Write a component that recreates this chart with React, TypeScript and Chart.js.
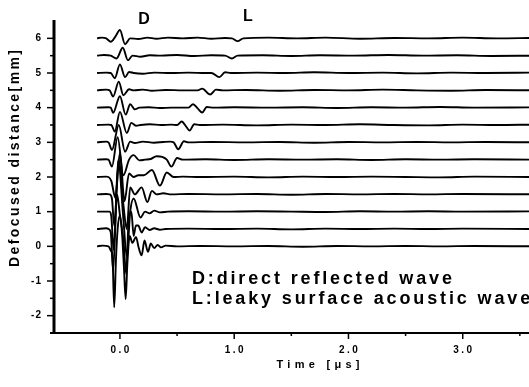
import { useEffect, useRef } from 'react';
import { Chart, registerables } from 'chart.js';

Chart.register(...registerables);

// Defocus distance (mm) of each recorded trace; also the vertical offset of the trace.
const offsets = [0, 0.5, 1, 1.5, 2, 2.5, 3, 3.5, 4, 4.5, 5, 5.5, 6];

// Waveform samples for each trace: [time in µs, amplitude relative to its baseline].
const traceZ0: [number, number][] = [
  [-0.2, 0], [-0.15, 0.02], [-0.1, 0.0], [-0.08, -0.12], [-0.065, -0.3], [-0.05, -1.76],
  [-0.035, -0.4], [-0.02, 0.5], [0.0, 0.9], [0.02, 0.3], [0.035, -0.6], [0.05, -1.52],
  [0.065, -0.5], [0.085, 0.3], [0.11, 0.1], [0.14, 0.27], [0.165, -0.05], [0.19, -0.26],
  [0.215, 0.17], [0.245, -0.16], [0.27, 0.08], [0.3, -0.05], [0.33, 0.04], [0.36, -0.03],
  [0.4, 0.02], [0.5, 0.0], [0.7, 0.01], [1.0, 0.0], [1.3, 0.01], [1.6, -0.01], [1.9, 0.01],
  [2.2, 0.0], [2.5, 0.01], [2.8, 0.0], [3.1, 0.01], [3.6, 0.0],
];
const traceZ05: [number, number][] = [
  [-0.2, 0], [-0.12, 0.02], [-0.1, 0.0], [-0.08, -0.1], [-0.06, -1.2], [-0.025, 1.0],
  [0.0, 0.4], [0.03, -0.3], [0.055, -1.3], [0.075, 0.2], [0.1, 0.5], [0.12, -0.2],
  [0.14, 0.1], [0.16, 0.1], [0.19, -0.1], [0.22, 0.05], [0.26, -0.03], [0.3, 0.02],
  [0.35, -0.02], [0.4, 0.0], [0.6, 0.01], [0.9, 0.0], [1.2, 0.01], [1.5, -0.01], [1.8, 0.01],
  [2.1, 0.0], [2.4, 0.01], [2.7, 0.0], [3.0, 0.01], [3.6, 0.0],
];
const traceZ1: [number, number][] = [
  [-0.2, 0], [-0.12, 0.0], [-0.09, 0.0], [-0.075, -0.15], [-0.055, -1.1], [-0.015, 1.5],
  [0.03, -0.2], [0.06, -1.3], [0.09, 0.0], [0.12, 0.38], [0.18, -0.17], [0.22, 0.0],
  [0.26, -0.05], [0.3, 0.03], [0.35, -0.02], [0.42, 0.0], [0.6, 0.01], [0.9, 0.0], [1.2, 0.01],
  [1.5, 0.0], [1.8, -0.01], [2.1, 0.01], [2.4, 0.0], [2.7, 0.01], [3.0, 0.0], [3.6, 0.01],
];
const traceZ15: [number, number][] = [
  [-0.2, 0], [-0.12, 0.01], [-0.09, 0.0], [-0.07, -0.12], [-0.05, -0.9], [-0.01, 1.0],
  [0.03, -0.3], [0.06, -1.0], [0.09, 0.2], [0.13, 0.0], [0.19, 0.2], [0.24, -0.22],
  [0.28, 0.1], [0.32, 0.0], [0.38, 0.03], [0.45, 0.0], [0.6, 0.01], [0.9, 0.0], [1.2, 0.01],
  [1.5, -0.01], [1.8, 0.01], [2.1, 0.0], [2.4, 0.01], [2.7, 0.0], [3.0, 0.01], [3.6, 0.0],
];
const traceZ2: [number, number][] = [
  [-0.2, 0], [-0.12, 0.01], [-0.1, 0.0], [-0.075, -0.12], [-0.04, -0.6], [0.0, 0.7],
  [0.04, -0.7], [0.08, 0.1], [0.12, 0.0], [0.16, 0.05], [0.21, 0.05], [0.28, 0.2],
  [0.35, -0.25], [0.41, 0.13], [0.47, 0.0], [0.55, 0.01], [0.7, 0.0], [1.0, 0.01], [1.3, -0.01],
  [1.6, 0.01], [1.9, 0.0], [2.2, 0.01], [2.5, 0.0], [2.8, -0.01], [3.1, 0.01], [3.6, 0.0],
];
const traceZ25: [number, number][] = [
  [-0.2, 0], [-0.12, 0.01], [-0.1, 0.0], [-0.07, -0.2], [-0.02, 0.65], [0.03, -0.45],
  [0.08, 0.0], [0.12, 0.13], [0.17, -0.02], [0.22, 0.0], [0.27, 0.02], [0.32, 0.1],
  [0.37, 0.08], [0.41, 0.0], [0.45, -0.2], [0.5, 0.05], [0.55, 0.0], [0.75, 0.01], [1.0, -0.01],
  [1.3, 0.01], [1.6, 0.0], [1.9, 0.01], [2.2, -0.01], [2.5, 0.01], [2.8, 0.0], [3.1, 0.01], [3.6, 0.0],
];
const traceZ3: [number, number][] = [
  [-0.2, 0], [-0.12, 0.02], [-0.1, 0.0], [-0.07, -0.22], [-0.01, 0.5], [0.045, -0.27],
  [0.09, 0.02], [0.13, -0.02], [0.2, 0.02], [0.3, -0.01], [0.38, 0.01], [0.44, 0.02],
  [0.47, 0.0], [0.51, -0.2], [0.56, 0.03], [0.6, 0.0], [0.8, 0.01], [1.1, 0.0], [1.4, 0.01],
  [1.7, -0.01], [2.0, 0.01], [2.3, 0.0], [2.6, 0.01], [2.9, 0.0], [3.2, 0.01], [3.6, 0.0],
];
const traceZ35: [number, number][] = [
  [-0.2, 0], [-0.1, 0.01], [-0.075, 0.0], [-0.045, -0.19], [0.0, 0.38], [0.06, -0.23],
  [0.1, 0.06], [0.14, -0.02], [0.18, 0.0], [0.26, 0.02], [0.36, 0.0], [0.45, 0.01], [0.5, 0.0],
  [0.54, 0.1], [0.58, -0.05], [0.61, -0.16], [0.65, 0.02], [0.7, 0.0], [0.9, 0.01], [1.2, -0.01],
  [1.5, 0.01], [1.8, 0.0], [2.1, 0.02], [2.4, 0.0], [2.7, -0.01], [3.0, 0.01], [3.3, 0.0], [3.6, 0.01],
];
const traceZ4: [number, number][] = [
  [-0.2, 0], [-0.1, 0.01], [-0.08, 0.0], [-0.06, -0.15], [0.0, 0.33], [0.05, -0.2],
  [0.09, 0.1], [0.13, -0.05], [0.17, 0.0], [0.25, 0.01], [0.35, -0.01], [0.45, 0.0], [0.6, 0.0],
  [0.64, 0.1], [0.68, -0.02], [0.72, -0.14], [0.76, 0.02], [0.82, 0.0], [1.0, 0.01], [1.3, 0.0],
  [1.6, 0.01], [1.9, -0.01], [2.2, 0.01], [2.5, 0.0], [2.8, 0.02], [3.1, 0.0], [3.6, 0.01],
];
const traceZ45: [number, number][] = [
  [-0.2, 0], [-0.12, 0.02], [-0.09, 0.0], [-0.06, -0.18], [-0.01, 0.25], [0.03, -0.14],
  [0.08, 0.03], [0.12, 0.0], [0.2, 0.02], [0.28, -0.01], [0.4, 0.01], [0.55, 0.0], [0.68, 0.0],
  [0.72, 0.05], [0.79, -0.12], [0.84, 0.02], [0.9, 0.0], [1.1, 0.01], [1.4, -0.01], [1.7, 0.01],
  [2.0, 0.0], [2.3, 0.02], [2.6, 0.0], [2.9, -0.01], [3.2, 0.01], [3.6, 0.0],
];
const traceZ5: [number, number][] = [
  [-0.2, 0], [-0.12, 0.01], [-0.08, 0.0], [-0.045, -0.15], [0.0, 0.25], [0.045, -0.12],
  [0.08, 0.03], [0.12, 0.0], [0.2, -0.02], [0.3, 0.01], [0.45, 0.0], [0.6, 0.01], [0.75, 0.0],
  [0.8, 0.0], [0.87, -0.12], [0.92, 0.02], [0.97, 0.0], [1.2, 0.01], [1.45, 0.0], [1.7, 0.02],
  [2.0, 0.0], [2.3, 0.01], [2.6, -0.01], [2.9, 0.01], [3.2, 0.0], [3.6, 0.01],
];
const traceZ55: [number, number][] = [
  [-0.2, 0], [-0.14, 0.02], [-0.08, 0.0], [-0.03, -0.08], [0.025, 0.23], [0.07, -0.13],
  [0.11, 0.0], [0.18, -0.03], [0.26, 0.01], [0.36, 0.0], [0.5, 0.02], [0.65, -0.01], [0.8, 0.01],
  [0.92, 0.0], [0.98, -0.08], [1.03, 0.0], [1.25, 0.01], [1.5, -0.01], [1.75, 0.01], [2.05, 0.0],
  [2.35, 0.02], [2.65, 0.0], [2.95, 0.01], [3.25, -0.01], [3.6, 0.0],
];
const traceZ6: [number, number][] = [
  [-0.2, 0], [-0.16, 0.02], [-0.12, 0.0], [-0.08, -0.1], [-0.04, 0.05], [0.0, 0.24],
  [0.045, -0.17], [0.09, 0.0], [0.16, -0.02], [0.24, 0.02], [0.32, -0.01], [0.42, 0.02],
  [0.55, 0.0], [0.68, 0.02], [0.8, -0.01], [0.92, 0.01], [0.98, 0.0], [1.03, -0.08], [1.08, 0.0],
  [1.3, 0.02], [1.55, 0.0], [1.8, 0.02], [2.1, -0.01], [2.4, 0.01], [2.7, 0.0], [3.0, 0.02],
  [3.3, 0.0], [3.6, 0.01],
];

const traces = [
  traceZ0, traceZ05, traceZ1, traceZ15, traceZ2, traceZ25, traceZ3,
  traceZ35, traceZ4, traceZ45, traceZ5, traceZ55, traceZ6,
];

// Axis ticks
const xTicks = [0, 1, 2, 3];
const xMinorTicks = [0.5, 1.5, 2.5, 3.5];
const yTicks = [-2, -1, 0, 1, 2, 3, 4, 5, 6];
const yMinorTicks = [-1.5, -0.5, 0.5, 1.5, 2.5, 3.5, 4.5, 5.5];

const xTitle = 'Time [μs]';
const yTitle = 'Defocused distance[mm]';
const markD = 'D';
const markL = 'L';
const legendLines = ['D:direct reflected wave', 'L:leaky surface acoustic wave'];

const FAMILY = '"Liberation Sans", Arial, sans-serif';

function plainWidth(ctx: CanvasRenderingContext2D, text: string, font: string) {
  ctx.font = font;
  (ctx as any).letterSpacing = '0px';
  return ctx.measureText(text).width;
}

function spacingFor(ctx: CanvasRenderingContext2D, text: string, font: string, width: number) {
  const n = [...text].length;
  return Math.max(0, (width - plainWidth(ctx, text, font)) / (n - 1));
}

function drawSpaced(
  ctx: CanvasRenderingContext2D, text: string, x: number, y: number,
  font: string, spacing: number, align: 'left' | 'center' | 'right',
) {
  const n = [...text].length;
  const w = plainWidth(ctx, text, font) + spacing * (n - 1);
  const sx = align === 'center' ? x - w / 2 : align === 'right' ? x - w : x;
  (ctx as any).letterSpacing = `${spacing}px`;
  ctx.textAlign = 'left';
  ctx.textBaseline = 'middle';
  ctx.fillText(text, sx, y);
  (ctx as any).letterSpacing = '0px';
}

const decorPlugin = {
  id: 'plotDecor',
  afterDraw(chart: any) {
    const ctx: CanvasRenderingContext2D = chart.ctx;
    const xs = chart.scales.x;
    const ys = chart.scales.y;
    const ax = xs.left;
    const ay = ys.bottom;
    const seg = (x1: number, y1: number, x2: number, y2: number) => {
      ctx.beginPath();
      ctx.moveTo(x1, y1);
      ctx.lineTo(x2, y2);
      ctx.stroke();
    };
    ctx.save();
    ctx.strokeStyle = '#000';
    ctx.fillStyle = '#000';
    ctx.lineCap = 'butt';

    // axis lines
    ctx.lineWidth = 3;
    seg(ax, ys.top - 1, ax, ay + 1);
    ctx.lineWidth = 2;
    seg(ax - 4, ay, chart.width, ay);

    // tick marks
    ctx.lineWidth = 1.5;
    yTicks.forEach((v) => { const p = ys.getPixelForValue(v); seg(ax - 7, p, ax, p); });
    yMinorTicks.forEach((v) => { const p = ys.getPixelForValue(v); seg(ax - 4, p, ax, p); });
    xTicks.forEach((v) => { const p = xs.getPixelForValue(v); seg(p, ay, p, ay + 6); });
    xMinorTicks.forEach((v) => { const p = xs.getPixelForValue(v); seg(p, ay, p, ay + 3); });

    // tick labels
    const tickFont = `bold 10px ${FAMILY}`;
    yTicks.forEach((v) => {
      drawSpaced(ctx, String(v), ax - 13, ys.getPixelForValue(v), tickFont, 1, 'right');
    });
    xTicks.forEach((v) => {
      drawSpaced(ctx, v.toFixed(1), xs.getPixelForValue(v), ay + 17, tickFont, 2.5, 'center');
    });

    // axis titles
    const xtFont = `bold 11px ${FAMILY}`;
    drawSpaced(ctx, xTitle, 318, 365, xtFont, spacingFor(ctx, xTitle, xtFont, 83), 'center');

    const ytFont = `bold 14px ${FAMILY}`;
    const ytSpacing = spacingFor(ctx, yTitle, ytFont, 217);
    ctx.save();
    ctx.translate(15, 158.5);
    ctx.rotate(-Math.PI / 2);
    drawSpaced(ctx, yTitle, 0, 0, ytFont, ytSpacing, 'center');
    ctx.restore();

    // wave markers above the traces
    const markFont = `bold 16px ${FAMILY}`;
    drawSpaced(ctx, markD, xs.getPixelForValue(0.21), ys.getPixelForValue(6.55), markFont, 0, 'center');
    drawSpaced(ctx, markL, xs.getPixelForValue(1.12), ys.getPixelForValue(6.63), markFont, 0, 'center');

    // key text
    const keyFont = `bold 18px ${FAMILY}`;
    const keySpacing = spacingFor(ctx, legendLines[0], keyFont, 260);
    const keyX = xs.getPixelForValue(0.63);
    drawSpaced(ctx, legendLines[0], keyX, ys.getPixelForValue(-0.95), keyFont, keySpacing, 'left');
    drawSpaced(ctx, legendLines[1], keyX, ys.getPixelForValue(-1.53), keyFont, keySpacing, 'left');

    ctx.restore();
  },
};

export default function App() {
  const canvasRef = useRef<HTMLCanvasElement>(null);

  useEffect(() => {
    if (!canvasRef.current) return;
    const datasets = traces.map((trace, i) => ({
      label: `z = ${offsets[i]} mm`,
      data: trace.map(([t, v]) => ({ x: t, y: offsets[i] + v })),
      borderColor: '#000',
      borderWidth: 1.9,
      pointRadius: 0,
      fill: false,
      cubicInterpolationMode: 'monotone' as const,
    }));

    const chart = new Chart(canvasRef.current, {
      type: 'line',
      data: { datasets },
      plugins: [decorPlugin],
      options: {
        animation: false,
        responsive: true,
        maintainAspectRatio: false,
        layout: { padding: { top: 21, left: 0, right: 0, bottom: 0 } },
        plugins: {
          legend: { display: false },
          tooltip: { enabled: false },
        },
        scales: {
          x: {
            type: 'linear',
            min: -0.577,
            max: 3.58,
            grid: { display: false, drawTicks: false },
            border: { display: false },
            ticks: { display: false },
            afterFit: (s: any) => { s.height = 54; },
          },
          y: {
            type: 'linear',
            min: -2.5,
            max: 6.5,
            grid: { display: false, drawTicks: false },
            border: { display: false },
            ticks: { display: false },
            afterFit: (s: any) => { s.width = 54; },
          },
        },
      },
    });
    return () => chart.destroy();
  }, []);

  return (
    <div style={{ position: 'fixed', left: 0, top: 0, width: 529, height: 387, background: '#fff' }}>
      <canvas ref={canvasRef} />
    </div>
  );
}
